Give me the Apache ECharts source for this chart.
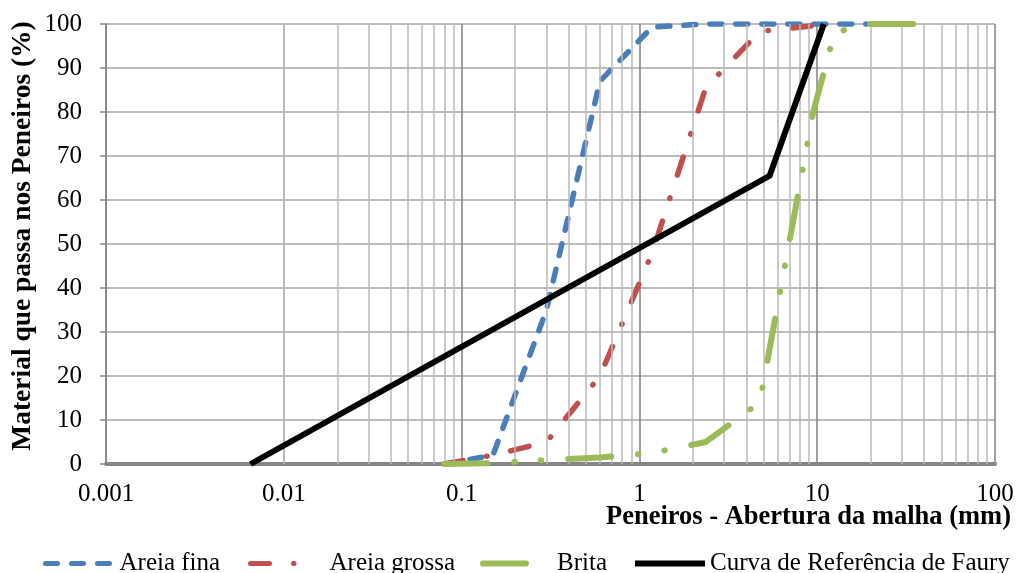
<!DOCTYPE html>
<html>
<head>
<meta charset="utf-8">
<script src="https://cdn.jsdelivr.net/npm/echarts@6/dist/echarts.min.js"></script>
<style>
  html, body { margin: 0; padding: 0; background: #fff; }
  #chart { width: 1030px; height: 573px; }
</style>
</head>
<body>
<div id="chart"></div>
<script>
// Sieve openings (mm) and percentage passing for each material
const fineSandSizes   = [0.08, 0.15, 0.3, 0.6, 1.18, 2.36, 4.75, 9.5, 12.5, 19];
const fineSandPass    = [0, 2, 35, 87, 99.3, 100, 100, 100, 100, 100];

const coarseSandSizes = [0.08, 0.15, 0.3, 0.6, 1.18, 2.36, 4.75, 9.5, 12.5];
const coarseSandPass  = [0, 2, 5, 20, 48, 85.5, 98.3, 99.6, 100];

const gravelSizes     = [0.08, 0.15, 0.3, 0.6, 1.18, 2.36, 4.75, 9.5, 12.5, 19, 25, 37.5];
const gravelPass      = [0, 0.2, 0.9, 1.5, 2.5, 5, 14, 80, 98, 100, 100, 100];

const fauryNodes      = [0.0065, 5.4, 10.9];
const fauryPass       = [0, 65.5, 100];

const seriesNames = ['Areia fina', 'Areia grossa', 'Brita', 'Curva de Referência de Faury'];
const xTickLabels = ['0.001', '0.01', '0.1', '1', '10', '100'];
const yTicks      = [0, 10, 20, 30, 40, 50, 60, 70, 80, 90, 100];
const yTitle      = 'Material que passa nos Peneiros (%)';
const xTitle      = 'Peneiros - Abertura da malha (mm)';

const FONT = '"Liberation Serif", "Times New Roman", serif';

const pair = (xs, ys) => xs.map((x, i) => [x, ys[i]]);

// minor log gridlines: 2..9 times each decade
const minorLines = [];
for (let e = -3; e < 2; e++) {
  for (let k = 2; k <= 9; k++) {
    minorLines.push({ xAxis: +(k * Math.pow(10, e)).toPrecision(3) });
  }
}

const chart = echarts.init(document.getElementById('chart'), null, { renderer: 'canvas' });

// legend swatches: line only, no marker in the middle
const legendBase = {
  orient: 'horizontal',
  top: 551,
  padding: 0,
  itemHeight: 14,
  itemStyle: { color: 'rgba(0,0,0,0)', borderWidth: 0, opacity: 0 },
  textStyle: { fontFamily: FONT, fontSize: 25, color: '#000' },
  selectedMode: false
};
const legendText = pad => Object.assign({}, legendBase.textStyle, { padding: [0, 0, 0, pad] });

chart.setOption({
  animation: false,
  backgroundColor: '#fff',
  title: {
    text: xTitle,
    right: 14,
    top: 499,
    textStyle: { fontFamily: FONT, fontSize: 26.5, fontWeight: 'bold', color: '#000' }
  },
  graphic: [{
    type: 'text',
    x: 23,
    y: 236,
    rotation: Math.PI / 2,
    silent: true,
    style: {
      text: yTitle,
      fill: '#000',
      font: 'bold 27.5px ' + FONT,
      align: 'center',
      verticalAlign: 'middle'
    }
  }],
  grid: { left: 106, right: 35, top: 24, bottom: 109, containLabel: false, outerBoundsMode: 'none' },
  legend: [
    Object.assign({}, legendBase, {
      left: 43, itemWidth: 68, data: [seriesNames[0]],
      lineStyle: { width: 5 }, textStyle: legendText(1)
    }),
    Object.assign({}, legendBase, {
      left: 248, itemWidth: 55, data: [seriesNames[1]],
      lineStyle: { width: 5 }, textStyle: legendText(19)
    }),
    Object.assign({}, legendBase, {
      left: 480, itemWidth: 51, data: [seriesNames[2]],
      lineStyle: { width: 6 }, textStyle: legendText(18)
    }),
    Object.assign({}, legendBase, {
      left: 632, itemWidth: 70, data: [seriesNames[3]],
      lineStyle: { width: 6 }, textStyle: legendText(0)
    })
  ],
  xAxis: {
    type: 'log',
    logBase: 10,
    min: 0.001,
    max: 100,
    axisLine: { show: true, onZero: false, lineStyle: { color: '#858585', width: 4 } },
    axisTick: { show: false },
    axisLabel: {
      margin: 18,
      fontFamily: FONT, fontSize: 25, color: '#000',
      formatter: v => xTickLabels[Math.round(Math.log10(v)) + 3]
    },
    splitLine: { show: true, lineStyle: { color: '#808080', width: 1.5 } }
  },
  yAxis: {
    type: 'value',
    min: 0,
    max: 100,
    interval: 10,
    axisLine: { show: true, lineStyle: { color: '#868686', width: 1.5 } },
    axisTick: { show: true, inside: false, length: 6, lineStyle: { color: '#868686', width: 1.5 } },
    axisLabel: {
      margin: 24,
      fontFamily: FONT, fontSize: 25, color: '#000',
      formatter: v => (yTicks.indexOf(v) >= 0 ? String(v) : '')
    },
    splitLine: { show: true, lineStyle: { color: '#a6a6a6', width: 1.5 } }
  },
  series: [
    {
      name: 'minor-grid',
      type: 'line',
      data: [],
      z: 1,
      silent: true,
      markLine: {
        silent: true,
        symbol: ['none', 'none'],
        label: { show: false },
        animation: false,
        lineStyle: { color: '#b8b8b8', width: 1.5, type: 'solid' },
        data: minorLines
      }
    },
    {
      name: seriesNames[0],
      type: 'line',
      data: pair(fineSandSizes, fineSandPass),
      symbol: 'none',
      z: 3,
      lineStyle: { color: '#4a7ebb', width: 5.5, type: [12, 14], cap: 'round', join: 'round' },
      itemStyle: { color: '#4a7ebb' }
    },
    {
      name: seriesNames[1],
      type: 'line',
      data: pair(coarseSandSizes, coarseSandPass),
      symbol: 'none',
      z: 4,
      lineStyle: { color: '#c0504d', width: 5.5, type: [19, 24, 0.5, 24], cap: 'round', join: 'round' },
      itemStyle: { color: '#c0504d' }
    },
    {
      name: seriesNames[2],
      type: 'line',
      data: pair(gravelSizes, gravelPass),
      symbol: 'none',
      z: 5,
      lineStyle: { color: '#9bbb59', width: 6, type: [43, 27, 0.5, 26, 0.5, 27], cap: 'round', join: 'round' },
      itemStyle: { color: '#9bbb59' }
    },
    {
      name: seriesNames[3],
      type: 'line',
      data: pair(fauryNodes, fauryPass),
      symbol: 'none',
      z: 6,
      lineStyle: { color: '#000', width: 6, type: 'solid', join: 'miter' },
      itemStyle: { color: '#000' }
    }
  ]
});
</script>
</body>
</html>
